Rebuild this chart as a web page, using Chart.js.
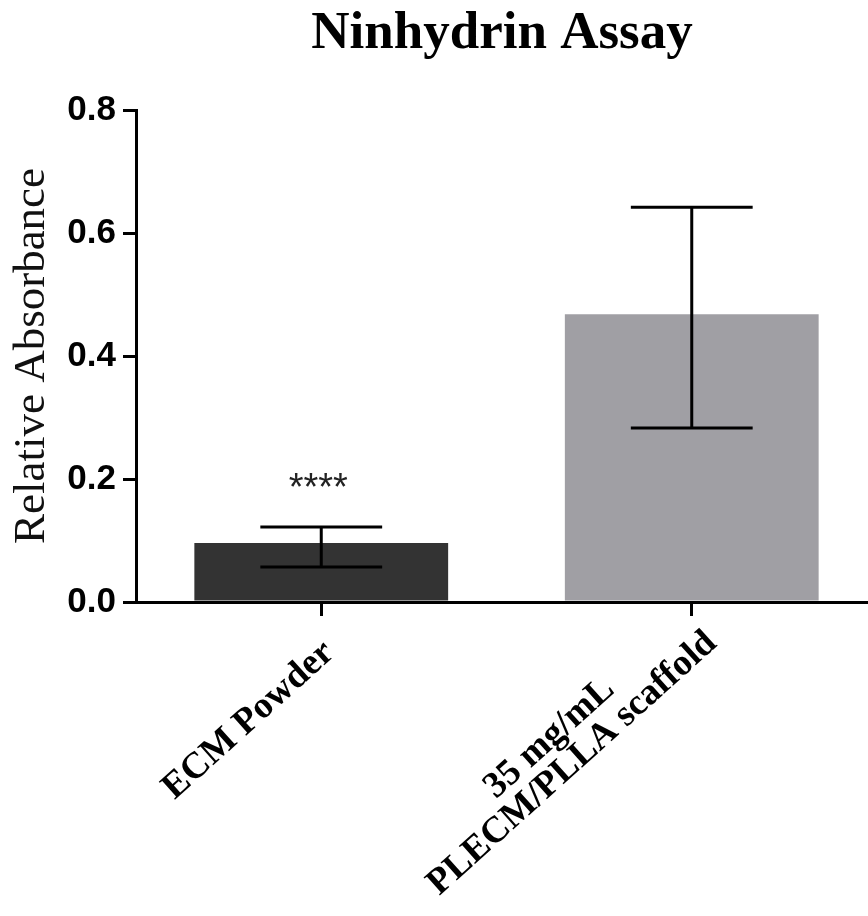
<!DOCTYPE html>
<html>
<head>
<meta charset="utf-8">
<script src="https://cdn.jsdelivr.net/npm/chart.js@4.4.1/dist/chart.umd.min.js"></script>
<style>
  html, body { margin: 0; padding: 0; background: #fff; }
</style>
</head>
<body>
<canvas id="chart" width="868" height="916"></canvas>
<script>
// values
const categories = [['ECM Powder'], ['35 mg/mL', 'PLECM/PLLA scaffold']];
const meanValues = [0.096, 0.468];
const errorLow = [0.057, 0.283];
const errorHigh = [0.122, 0.642];
const significance = ['****', ''];
const barColors = ['#333333', '#a09fa4'];
const yTickValues = [0, 0.2, 0.4, 0.6, 0.8];

// the original plot runs a little past the right edge of the image
const widenXPlugin = {
    id: 'widenX',
    afterLayout (chart) {
        const xScale = chart.scales.x;
        xScale.right += 9;
        xScale.width += 9;
        xScale.configure();
    }
};

// error bars drawn from the y scale
const errorBarPlugin = {
    id: 'errorBars',
    afterDatasetsDraw (chart) {
        const ctx = chart.ctx;
        const yScale = chart.scales.y;
        const bars = chart.getDatasetMeta(0).data;
        ctx.save();
        ctx.strokeStyle = '#000';
        ctx.lineWidth = 3;
        bars.forEach((bar, i) => {
            const yLo = yScale.getPixelForValue(errorLow[i]);
            const yHi = yScale.getPixelForValue(errorHigh[i]);
            const half = bar.width * 0.24;
            ctx.beginPath();
            ctx.moveTo(bar.x, yLo);
            ctx.lineTo(bar.x, yHi);
            ctx.moveTo(bar.x - half, yLo);
            ctx.lineTo(bar.x + half, yLo);
            ctx.moveTo(bar.x - half, yHi);
            ctx.lineTo(bar.x + half, yHi);
            ctx.stroke();

            if (significance[i]) {
                ctx.fillStyle = '#222';
                ctx.font = '38px "Liberation Sans", Arial, sans-serif';
                ctx.textAlign = 'center';
                ctx.textBaseline = 'alphabetic';
                ctx.fillText(significance[i], bar.x - 3, yHi - 27);
            }
        });
        ctx.restore();
    }
};

// rotated category labels, lines centred inside the block like the original
const xLabelPlugin = {
    id: 'xLabels',
    afterDraw (chart) {
        const ctx = chart.ctx;
        const xScale = chart.scales.x;
        const lineHeight = 34;
        const angle = 42 * Math.PI / 180;
        ctx.save();
        ctx.font = 'bold 37px "Liberation Serif", "Times New Roman", serif';
        ctx.fillStyle = '#000';
        ctx.textAlign = 'right';
        ctx.textBaseline = 'middle';
        categories.forEach((lines, i) => {
            const n = lines.length;
            const x = xScale.getPixelForTick(i) + 8 + 12 * (n - 1);
            const y = xScale.top + 46 - 10 * (n - 1);
            const widths = lines.map(l => ctx.measureText(l).width);
            const blockWidth = Math.max(...widths);
            ctx.save();
            ctx.translate(x, y);
            ctx.rotate(-angle);
            lines.forEach((line, j) => {
                const shift = (blockWidth - widths[j]) / 2;
                ctx.fillText(line, -shift, (j - (n - 1)) * lineHeight);
            });
            ctx.restore();
        });
        ctx.restore();
    }
};

new Chart(document.getElementById('chart'), {
    type: 'bar',
    data: {
        labels: categories,
        datasets: [
            {
                label: 'Relative Absorbance',
                data: meanValues,
                backgroundColor: barColors,
                borderWidth: 0,
                categoryPercentage: 1,
                barPercentage: 0.685
            }
        ]
    },
    plugins: [widenXPlugin, errorBarPlugin, xLabelPlugin],
    options: {
        responsive: false,
        animation: false,
        layout: {
            padding: { left: 0, right: 0, top: 0, bottom: 0 }
        },
        plugins: {
            legend: { display: false },
            tooltip: { enabled: false },
            title: {
                display: true,
                fullSize: false,
                text: 'Ninhydrin Assay',
                color: '#000',
                font: { family: '"Liberation Serif", "Times New Roman", serif', size: 53, weight: 'bold', lineHeight: 1.2 },
                padding: { top: 3, bottom: 43.4 }
            }
        },
        scales: {
            x: {
                afterFit: (scale) => { scale.height = 314; },
                ticks: { display: false },
                grid: {
                    offset: false,
                    drawOnChartArea: false,
                    drawTicks: true,
                    tickLength: 14,
                    lineWidth: 3,
                    color: '#000'
                },
                border: { display: true, width: 3, color: '#000' }
            },
            y: {
                min: 0,
                max: 0.8,
                afterFit: (scale) => { scale.width = 136; },
                afterBuildTicks: (scale) => {
                    scale.ticks = yTickValues.map(v => ({ value: v }));
                },
                ticks: {
                    color: '#000',
                    padding: 7,
                    font: { family: '"Liberation Sans", Arial, sans-serif', size: 35, weight: 'bold' },
                    callback: (value) => Number(value).toFixed(1)
                },
                grid: {
                    drawOnChartArea: false,
                    drawTicks: true,
                    tickLength: 13,
                    lineWidth: 3,
                    color: '#000'
                },
                border: { display: true, width: 3, color: '#000' },
                title: {
                    display: true,
                    text: 'Relative Absorbance',
                    color: '#111',
                    font: { family: '"Liberation Serif", "Times New Roman", serif', size: 45, weight: 'normal', lineHeight: 1.2 },
                    padding: { top: 5, bottom: 0 }
                }
            }
        }
    }
});
</script>
</body>
</html>
